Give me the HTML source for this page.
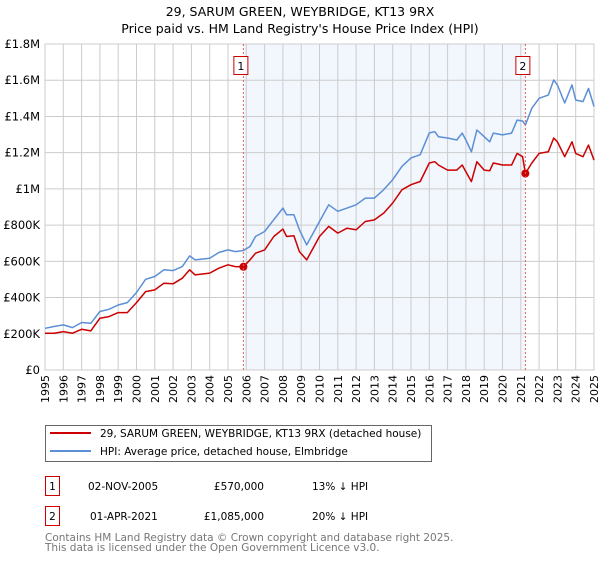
<!DOCTYPE html>
<html><head><meta charset="utf-8"><style>
body{margin:0;background:#fff;width:600px;height:560px;overflow:hidden;font-family:"DejaVu Sans","Liberation Sans",sans-serif;}
svg text{font-family:"DejaVu Sans","Liberation Sans",sans-serif;}
</style></head><body>
<svg id="chart" width="600" height="560" xmlns="http://www.w3.org/2000/svg">
<text x="300" y="16" text-anchor="middle" font-size="12.5" fill="#000">29, SARUM GREEN, WEYBRIDGE, KT13 9RX</text>
<text x="300" y="33" text-anchor="middle" font-size="12.5" fill="#000">Price paid vs. HM Land Registry's House Price Index (HPI)</text>
<g id="grid"></g><g id="axes"></g><g id="series"></g><g id="marks"></g>
<g>
<rect x="45.5" y="425.5" width="386" height="36" fill="#fff" stroke="#666"/>
<line x1="50" y1="433" x2="91" y2="433" stroke="#cc0000" stroke-width="2"/>
<text x="100" y="437" font-size="10.5" fill="#000">29, SARUM GREEN, WEYBRIDGE, KT13 9RX (detached house)</text>
<line x1="50" y1="451" x2="91" y2="451" stroke="#5b8fd6" stroke-width="2"/>
<text x="100" y="455" font-size="10.5" fill="#000">HPI: Average price, detached house, Elmbridge</text>
</g>
<g font-size="10.5">
<rect x="45.5" y="476.5" width="14" height="19" fill="#fff" stroke="#cc0000"/>
<text x="52.5" y="490" text-anchor="middle">1</text>
<text x="88" y="490">02-NOV-2005</text>
<text x="264" y="490" text-anchor="end">£570,000</text>
<text x="312" y="490">13% ↓ HPI</text>
</g>
<g font-size="10.5">
<rect x="45.5" y="506.5" width="14" height="19" fill="#fff" stroke="#cc0000"/>
<text x="52.5" y="520" text-anchor="middle">2</text>
<text x="90" y="520">01-APR-2021</text>
<text x="264" y="520" text-anchor="end">£1,085,000</text>
<text x="312" y="520">20% ↓ HPI</text>
</g>
<text x="45" y="541" font-size="10.5" fill="#777">Contains HM Land Registry data © Crown copyright and database right 2025.</text>
<text x="45" y="551" font-size="10.5" fill="#777">This data is licensed under the Open Government Licence v3.0.</text>
</svg>
<script>
const yTicks=[0,200000,400000,600000,800000,1000000,1200000,1400000,1600000,1800000];
const yTickLabels=["£0","£200K","£400K","£600K","£800K","£1M","£1.2M","£1.4M","£1.6M","£1.8M"];
const years=[1995,1996,1997,1998,1999,2000,2001,2002,2003,2004,2005,2006,2007,2008,2009,2010,2011,2012,2013,2014,2015,2016,2017,2018,2019,2020,2021,2022,2023,2024,2025];
const hpiDates=[1995,1995.5,1996,1996.5,1997,1997.5,1998,1998.5,1999,1999.5,2000,2000.5,2001,2001.5,2002,2002.5,2002.9,2003.2,2004,2004.5,2005,2005.4,2005.84,2006.2,2006.5,2007,2007.5,2008,2008.2,2008.6,2008.9,2009.3,2010,2010.5,2011,2011.5,2012,2012.5,2013,2013.5,2014,2014.5,2015,2015.5,2016,2016.3,2016.5,2017,2017.5,2017.8,2018,2018.3,2018.6,2019,2019.3,2019.5,2020,2020.5,2020.8,2021.1,2021.25,2021.6,2022,2022.5,2022.8,2023,2023.4,2023.8,2024,2024.4,2024.7,2025];
const hpiValues=[230,240,249,234,262,258,323,335,359,372,428,501,516,553,549,571,630,608,617,649,663,654,660,682,737,765,830,894,857,857,774,691,820,912,876,894,912,949,949,995,1051,1124,1171,1189,1309,1316,1288,1281,1270,1308,1270,1205,1325,1288,1260,1308,1298,1308,1380,1375,1353,1445,1500,1518,1601,1574,1474,1574,1491,1482,1555,1455];
const priceValues=[203,203,212,203,225,216,286,295,317,317,372,433,442,479,476,507,553,525,535,562,581,571,570,608,645,663,737,778,737,741,654,608,737,793,756,783,774,820,829,866,922,995,1023,1041,1143,1150,1132,1104,1104,1132,1095,1040,1150,1104,1100,1143,1132,1132,1196,1178,1085,1143,1196,1205,1281,1260,1178,1260,1196,1178,1242,1159];
const saleDates=[2005.84,2021.25];
const salePrices=[570000,1085000];
const saleLabels=["1","2"];

const X0=45,X1=594,Y0=370,Y1=44;
const xs=y=>X0+(y-1995)/30*(X1-X0);
const ys=v=>Y0-v/1800000*(Y0-Y1);
const NS="http://www.w3.org/2000/svg";
function mk(tag,attrs,parent){const e=document.createElementNS(NS,tag);for(const k in attrs)e.setAttribute(k,attrs[k]);parent.appendChild(e);return e;}
const grid=document.getElementById('grid'),axes=document.getElementById('axes'),series=document.getElementById('series'),marks=document.getElementById('marks');
const shade=mk('rect',{x:xs(saleDates[0]),y:Y1,width:xs(saleDates[1])-xs(saleDates[0]),height:Y0-Y1,fill:'#eef3fc',opacity:0.75},grid);


years.forEach(yr=>{
 const l=mk('line',{x1:xs(yr),x2:xs(yr),y1:Y1,y2:Y0,stroke:'#cccccc','stroke-width':1},grid);
 
 
 const t=mk('text',{x:0,y:0,'font-size':11,fill:'#000','text-anchor':'end',transform:`translate(${xs(yr)+4},${Y0+5}) rotate(-90)`},axes);
 t.textContent=yr;
 
 
});
yTicks.forEach((v,i)=>{
 const l=mk('line',{x1:X0,x2:X1,y1:ys(v),y2:ys(v),stroke:'#cccccc','stroke-width':1},grid);
 
 
 const t=mk('text',{x:X0-5,y:ys(v)+4,'font-size':11.5,fill:'#000','text-anchor':'end'},axes);
 t.textContent=yTickLabels[i];
 
 
});
const frame=mk('rect',{x:X0,y:Y1,width:X1-X0,height:Y0-Y1,fill:'none',stroke:'#cccccc'},grid);


saleDates.forEach((d,i)=>{
 const l=mk('line',{x1:xs(d),x2:xs(d),y1:Y1,y2:Y0,stroke:'#e06060','stroke-width':1,'stroke-dasharray':'2,2'},marks);
 
 
 const r=mk('rect',{x:xs(d)-9.5,y:56.5,width:14,height:18,fill:'#fff',stroke:'#cc0000'},marks);
 
 
 const t=mk('text',{x:xs(d)-2.5,y:70,'font-size':11,'text-anchor':'middle',fill:'#000'},marks);
 t.textContent=saleLabels[i];
 
 
});
const pts=(vals)=>vals.map((v,i)=>xs(hpiDates[i]).toFixed(1)+','+ys(v*1000).toFixed(1)).join(' ');
const hpi=mk('polyline',{points:pts(hpiValues),fill:'none',stroke:'#5b8fd6','stroke-width':1.5,'stroke-linejoin':'round'},series);


const pr=mk('polyline',{points:pts(priceValues),fill:'none',stroke:'#cc0000','stroke-width':1.5,'stroke-linejoin':'round'},series);


saleDates.forEach((d,i)=>{
 const c=mk('circle',{cx:xs(d),cy:ys(salePrices[i]),r:4,fill:'#cc0000'},series);
 
 
});
</script>
</body></html>
